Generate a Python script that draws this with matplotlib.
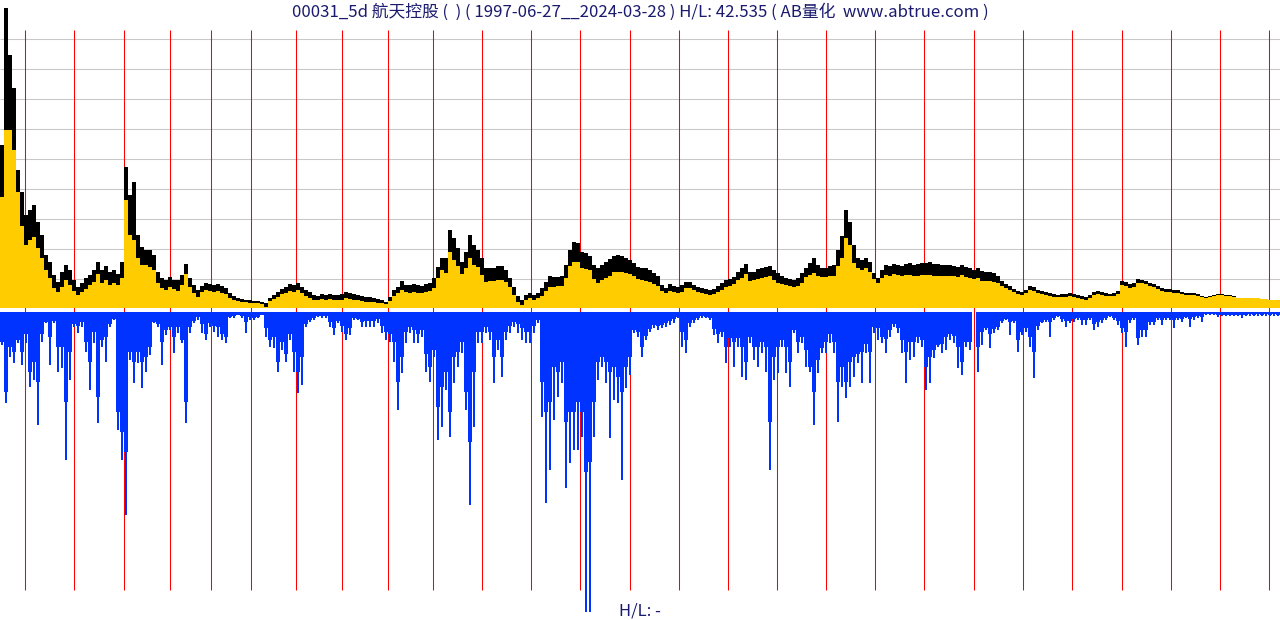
import matplotlib
matplotlib.use('Agg')
import matplotlib.pyplot as plt
import numpy as np

plt.rcParams['font.family'] = ['Noto Sans CJK SC', 'DejaVu Sans']

TITLE = "00031_5d 航天控股 (  ) ( 1997-06-27__2024-03-28 ) H/L: 42.535 ( AB量化  www.abtrue.com )"
FOOTER = "H/L: -"

# x axis = weekly bar sequence, scaled to 0..1280; first bar of each year 1998..2024
year_start_pos = [24, 73, 123, 169, 210, 250, 295, 341, 387, 432, 481, 530, 579, 629,
                  678, 727, 776, 825, 874, 923, 973, 1022, 1071, 1121, 1170, 1219, 1268]

# price band (relative units, panel height = 300), one value per 4-px group of bars
high = [163,300,253,220,138,116,93,98,103,86,
        73,53,46,33,26,36,43,38,28,21,
        25,30,33,38,46,38,42,36,38,34,
        46,141,113,126,73,61,58,58,53,36,
        30,28,31,28,28,33,44,30,23,18,
        22,25,24,23,24,22,20,15,12,10,
        9,8,8,7,7,6,5,10,13,16,
        19,21,24,23,25,21,18,16,13,12,
        14,13,14,13,13,14,16,15,14,13,
        12,11,11,10,9,8,6,11,18,21,
        27,23,23,24,23,22,24,25,30,41,
        50,50,78,70,60,46,56,73,63,58,
        50,40,40,40,42,42,38,30,21,12,
        8,13,15,13,15,20,26,32,31,31,
        32,43,58,66,65,56,55,52,43,40,
        43,46,49,52,53,52,50,48,45,41,
        40,40,38,35,32,23,20,24,22,21,
        23,26,26,23,21,20,19,18,19,22,
        25,28,29,31,36,40,44,36,36,39,
        40,41,42,38,35,32,30,29,28,30,
        35,40,45,50,43,40,40,42,43,58,
        72,98,86,63,50,48,50,46,35,30,
        38,43,42,44,43,42,44,45,43,44,
        45,45,46,44,44,43,43,43,42,41,
        43,41,40,38,40,37,36,36,35,32,
        27,24,22,19,17,16,18,22,21,18,
        17,16,15,14,13,14,14,15,14,13,
        12,11,13,16,17,16,15,14,15,17,
        27,26,24,25,29,28,27,25,24,22,
        20,19,19,18,18,16,15,15,15,14,
        12,11,12,13,14,14,13,13,12,10.5,
        10,10,10,10,10,9,9,8,8,8]

low = [111,178,178,158,116,82,63,68,71,60,
       50,38,30,20,16,21,28,23,17,13,
       16,19,23,26,34,25,28,23,25,23,
       30,108,73,68,50,43,43,41,38,25,
       20,18,21,19,17,23,34,21,15,11,
       16,18,17,16,17,15,14,10,8,7,
       6,6,5,5,5,4,1,7,9,11,
       14,15,17,16,18,15,12,10,8,8,
       9,8,9,8,8,8,10,9,8,8,
       7,6,6,6,5,5,4,7,12,15,
       18,16,15,16,15,15,16,17,20,30,
       38,35,56,48,42,34,40,50,43,41,
       33,26,27,27,28,28,26,21,13,6,
       3,8,10,8,10,12,17,21,21,22,
       22,30,42,46,46,40,39,38,29,25,
       28,30,32,36,36,36,35,34,32,29,
       28,27,26,24,22,17,15,17,16,15,
       16,20,20,18,16,15,14,13,14,16,
       18,21,22,24,28,30,34,27,28,29,
       30,31,32,28,25,24,23,22,21,22,
       25,31,33,35,32,31,31,32,32,42,
       50,70,63,45,40,38,40,36,29,25,
       30,33,32,34,33,32,33,33,32,32,
       33,33,33,32,32,32,32,32,32,31,
       33,31,30,29,30,27,27,27,26,25,
       22,20,18,16,14,13,15,18,17,15,
       14,13,12,11,11,11,11,12,11,10,
       9,8,10,13,14,13,12,12,12,14,
       23,22,20,21,25,25,24,22,21,19,
       17,16,16,15,15,14,13,13,13,12,
       11,10,11,12,13,13,12,12,11,10.5,
       10,10,10,10,10,9,9,8,8,8]

# typical volume per group (relative units, panel height = 300)
volume = [30,80,35,40,28,40,22,60,50,70,
          22,10,25,9,35,35,90,40,12,14,
          10,30,50,20,85,28,25,12,7,100,
          120,140,40,50,40,50,45,35,10,12,
          30,18,15,25,15,28,90,15,9,5,
          12,22,11,14,15,22,25,5,4,3,
          4,10,5,6,5,3,16,28,25,50,
          30,42,22,40,60,45,12,8,6,4,
          4,4,10,16,9,14,22,16,6,7,
          10,9,9,9,7,14,20,22,30,70,
          45,20,15,18,22,18,42,55,38,95,
          75,60,100,45,40,30,80,130,60,20,
          20,15,20,45,28,45,20,14,10,12,
          16,20,20,14,8,70,100,90,55,60,
          50,110,100,100,90,100,160,150,90,50,
          45,50,60,55,65,80,55,45,18,20,
          35,24,17,13,14,13,11,9,7,5,
          20,28,11,8,6,4,5,6,17,22,
          20,35,26,30,26,35,50,25,35,35,
          30,35,110,45,35,28,35,50,18,30,
          25,38,55,80,48,36,30,22,30,70,
          55,70,50,45,42,40,32,40,15,16,
          25,27,18,12,16,28,40,30,30,25,
          28,55,45,38,33,32,25,22,24,35,
          50,30,30,0,35,20,16,22,17,15,
          9,7,10,9,28,20,16,25,40,14,
          10,8,10,6,4,7,9,9,7,6,
          8,8,6,12,10,8,6,4,6,9,
          16,20,8,6,26,18,18,10,10,6,
          8,6,6,8,6,7,5,7,5,4,
          5,2,2,2,3,3,3,3,3,3,
          3,3,2,3,2,3,2,3,2,3]

# peak (largest single bar) volume in each group
volume_peak = [33,91,45,51,31,53,31,75,68,113,
               30,11,53,11,60,56,148,68,15,21,
               15,40,78,31,111,35,50,15,8,118,
               148,203,48,71,51,76,60,43,11,15,
               53,23,18,41,21,31,111,21,11,8,
               21,28,15,20,25,28,31,6,6,3,
               6,21,8,8,6,3,25,35,36,60,
               38,50,28,60,81,73,15,10,8,5,
               6,6,15,23,11,20,28,23,8,8,
               15,15,15,15,11,21,28,30,50,98,
               61,31,21,31,31,25,60,70,45,128,
               115,78,125,71,55,41,98,193,115,31,
               31,21,28,71,38,65,28,21,15,21,
               28,31,31,21,11,105,191,158,108,85,
               71,176,151,138,138,125,300,300,125,68,
               55,71,126,88,91,168,76,63,21,25,
               45,28,20,16,18,16,15,13,11,6,
               35,41,15,11,8,6,6,8,23,31,
               25,51,35,55,35,65,68,31,48,55,
               41,60,158,68,61,35,61,75,21,41,
               31,55,60,113,61,41,41,31,41,110,
               75,86,75,65,51,71,41,71,21,28,
               31,41,25,15,21,41,71,48,45,31,
               35,78,71,46,35,41,38,28,31,56,
               63,35,38,0,60,33,18,36,21,18,
               11,8,23,11,40,23,20,35,66,18,
               11,10,25,8,5,10,15,11,10,8,
               13,13,8,18,15,11,8,5,8,13,
               21,35,11,8,33,25,25,13,13,8,
               13,8,8,16,8,10,6,15,8,6,
               10,3,3,3,5,4,4,4,4,4,
               6,4,4,4,4,4,4,4,4,4]

W, H = 1280, 620
fig = plt.figure(figsize=(W / 100, H / 100), dpi=100)
fig.patch.set_facecolor('white')


def rect(top, bottom):
    return [0, (H - bottom) / H, 1, (bottom - top) / H]


n = len(high)
span = 1280.0
bw = span / n
xs = (np.arange(n) + 0.5) * bw

# background: grid and year lines
bg = fig.add_axes([0, 0, 1, 1], zorder=0)
bg.set_xlim(0, span)
bg.set_ylim(H, 0)
bg.axis('off')
for gy in range(38, 279, 30):
    bg.plot([0, span], [gy + 0.5, gy + 0.5], color='#c8c8c8', lw=0.75, solid_capstyle='butt')
for xp in year_start_pos:
    bg.plot([xp + 0.5, xp + 0.5], [30, 590], color='#ff0000', lw=0.75, solid_capstyle='butt')

# price panel
ax = fig.add_axes(rect(8, 308), zorder=1)
ax.patch.set_alpha(0)
hi = np.array(high, dtype=float)
lo = np.array(low, dtype=float)
ax.bar(xs, lo, width=bw, color='#ffcc00', linewidth=0)
ax.bar(xs, hi - lo, bottom=lo, width=bw, color='#000000', linewidth=0)
ax.set_xlim(0, span)
ax.set_ylim(0, 300)
ax.axis('off')

# volume panel
av = fig.add_axes(rect(312, 612), zorder=1)
av.patch.set_alpha(0)
av.bar(xs, volume, width=bw, color='#0033ff', linewidth=0)
av.bar(xs, volume_peak, width=bw * 0.3, color='#0033ff', linewidth=0)
av.set_xlim(0, span)
av.set_ylim(300, 0)
av.axis('off')

fig.text(0.5, 1 - 12.5 / H, TITLE, ha='center', va='center', fontsize=12.1, color='#1a1a6e')
fig.text(0.5, 1 - 611 / H, FOOTER, ha='center', va='center', fontsize=12, color='#1a1a6e')

fig.savefig('out.png', dpi=100, facecolor='white')
